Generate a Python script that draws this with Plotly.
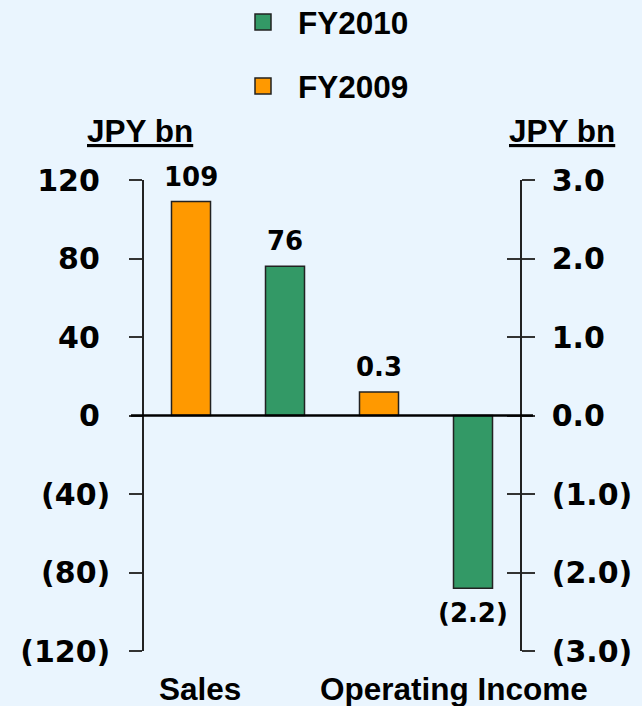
import plotly.graph_objects as go

# ---- data ----
categories = ["Sales", "Operating Income"]
series_names = ["FY2009", "FY2010"]
fy2009 = [109, 0.3]
fy2010 = [76, -2.2]
decimals = [0, 1]          # label precision per category
left_ticks = [-120, -80, -40, 0, 40, 80, 120]
right_ticks = [-3.0, -2.0, -1.0, 0.0, 1.0, 2.0, 3.0]

colors = {"FY2009": "#FF9900", "FY2010": "#339966"}
BG = "#EAF5FE"


def fmt(v, d):
    s = f"{abs(v):.{d}f}"
    return f"({s})" if v < 0 else s


values = {"FY2009": fy2009, "FY2010": fy2010}
slots = [f"{c} {s}" for c in categories for s in series_names]
# axis per (category, series): sales on left axis, operating income on right axes
axis_of = {("Sales", "FY2009"): "y", ("Sales", "FY2010"): "y",
           ("Operating Income", "FY2009"): "y2", ("Operating Income", "FY2010"): "y3"}

fig = go.Figure()
ann = []
for s in series_names:
    for i, c in enumerate(categories):
        yax = axis_of[(c, s)]
        v = values[s][i]
        fig.add_trace(go.Bar(
            x=[f"{c} {s}"], y=[v], yaxis=yax, name=s,
            legendgroup=s, showlegend=False,
            marker=dict(color=colors[s], line=dict(color="#222222", width=1.5)),
        ))
        ann.append(dict(
            x=f"{c} {s}", y=v, xref="x", yref=yax, text=fmt(v, decimals[i]),
            showarrow=False, yanchor="middle", yshift=25 if v >= 0 else -25,
            font=dict(family="DejaVu Sans", size=26, color="black", weight="bold"),
        ))

# legend entries (square keys)
for s in ["FY2010", "FY2009"]:
    fig.add_trace(go.Scatter(
        x=[slots[0]], y=[None], mode="markers", name=s, legendgroup=s,
        marker=dict(symbol="square", size=25, color=colors[s],
                    line=dict(color="#222222", width=1.5)),
        hoverinfo="skip",
    ))

txtfont = dict(family="Liberation Sans, Arial", size=31.5, color="black", weight="bold")
# category labels
ann.append(dict(x=0.15, y=0, xref="paper", yref="paper", yshift=-38, yanchor="middle",
                xanchor="center", text=categories[0], showarrow=False, font=txtfont))
ann.append(dict(x=0.825, y=0, xref="paper", yref="paper", yshift=-38, yanchor="middle",
                xanchor="center", text=categories[1], showarrow=False, font=txtfont))
# axis unit titles
ann.append(dict(x=0, y=1, xref="paper", yref="paper", yshift=49, yanchor="middle",
                xanchor="center", xshift=-4, text="<u>JPY bn</u>", showarrow=False, font=txtfont))
ann.append(dict(x=1, y=1, xref="paper", yref="paper", yshift=49, yanchor="middle",
                xanchor="center", xshift=42, text="<u>JPY bn</u>", showarrow=False, font=txtfont))

tickfont = dict(family="DejaVu Sans", size=30, color="black", weight="bold")
fig.update_layout(
    width=642, height=706,
    margin=dict(l=144, r=122, t=180, b=55, autoexpand=False),
    paper_bgcolor=BG, plot_bgcolor=BG,
    barmode="overlay", bargap=0.585,
    xaxis=dict(type="category", categoryorder="array", categoryarray=slots,
               showticklabels=False, showgrid=False, zeroline=False, showline=False,
               ticks="", automargin=False),
    yaxis=dict(range=[-120, 120], tickvals=left_ticks,
               ticktext=[fmt(v, 0) + ("" if v < 0 else "\u00a0") for v in left_ticks],
               showgrid=False, zeroline=False, showline=True, linecolor="#222222",
               linewidth=1.5, ticks="outside", ticklen=13, tickwidth=1.5,
               tickcolor="#333333", tickfont=tickfont, ticklabelstandoff=13,
               automargin=False),
    yaxis2=dict(range=[-3, 3], tickvals=right_ticks,
                ticktext=[fmt(v, 1) for v in right_ticks],
                overlaying="y", side="right", anchor="x",
                showgrid=False, zeroline=False, showline=True, linecolor="#222222",
                linewidth=1.5, ticks="outside", ticklen=13, tickwidth=1.5,
                tickcolor="#333333", tickfont=tickfont, ticklabelstandoff=11,
                automargin=False),
    yaxis3=dict(range=[-3, 3], tickvals=right_ticks, overlaying="y", side="right",
                anchor="x", showticklabels=False, showgrid=False, zeroline=False,
                showline=False, ticks="inside", ticklen=13, tickwidth=1.5,
                tickcolor="#333333", automargin=False),
    showlegend=True,
    legend=dict(x=228 / 642, xref="container", xanchor="left", y=1 + 185 / 471,
                yref="paper", yanchor="top", bgcolor="rgba(0,0,0,0)", font=txtfont,
                tracegroupgap=20, traceorder="grouped", itemwidth=60),
    annotations=ann,
    shapes=[dict(type="line", xref="paper", yref="y", x0=-13 / 376, x1=1 + 13 / 376,
                 y0=0, y1=0, line=dict(color="black", width=2.5), layer="above")],
)

fig.write_html("out.html", config={"displayModeBar": False},
               post_script="document.body.style.margin='0';")
